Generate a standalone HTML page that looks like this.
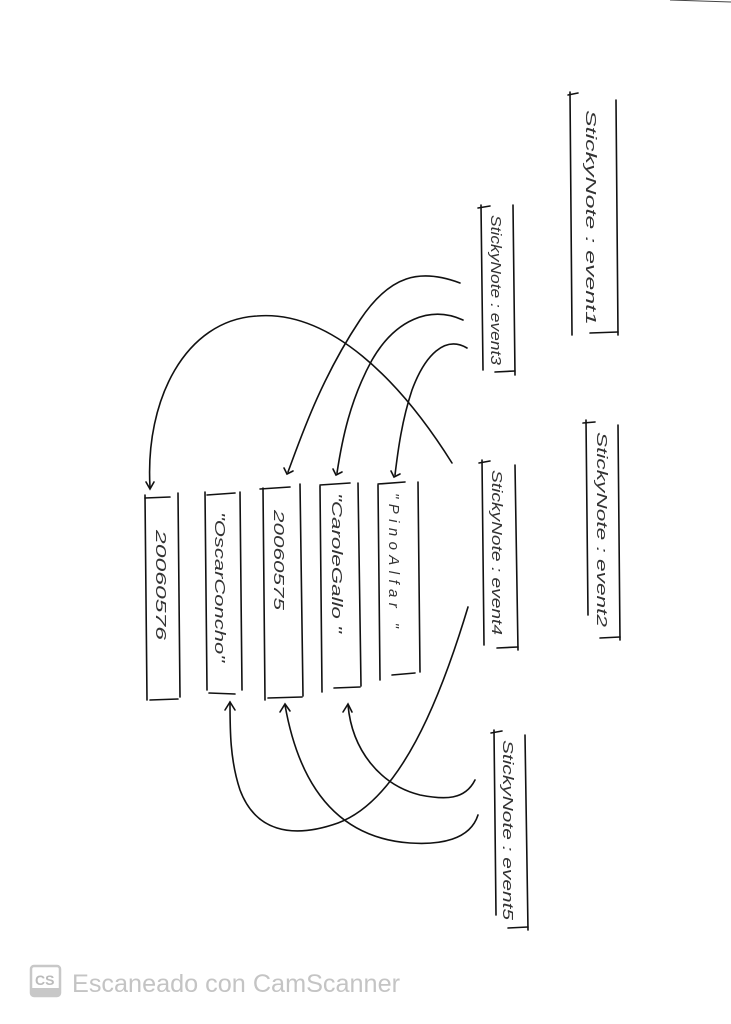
<!DOCTYPE html>
<html><head><meta charset="utf-8"><style>
html,body{margin:0;padding:0;background:#fff;}
svg{display:block;}
</style></head><body>
<svg width="731" height="1024" viewBox="0 0 731 1024" xmlns="http://www.w3.org/2000/svg">
<rect width="731" height="1024" fill="#fff"/>
<line x1="670" y1="0" x2="731" y2="2" stroke="#444" stroke-width="1"/>
<g stroke="#111" stroke-width="1.6" fill="none" stroke-linecap="round">
<path d="M570 92 L572 335"/><path d="M616 100 L618 335"/><path d="M568 95 L578 93"/><path d="M590 333 L618 332"/>
<path d="M481 205 L483 370"/><path d="M513 205 L515 375"/><path d="M478 208 L490 206"/><path d="M495 372 L515 371"/>
<path d="M586 420 L588 615"/><path d="M618 425 L620 640"/><path d="M583 423 L595 422"/><path d="M600 638 L620 637"/>
<path d="M482 460 L484 645"/><path d="M515 465 L518 650"/><path d="M479 463 L490 461"/><path d="M497 648 L518 647"/>
<path d="M494 730 L496 915"/><path d="M525 735 L528 930"/><path d="M491 733 L502 731"/><path d="M508 928 L528 927"/>
<path d="M378 485 L380 680"/><path d="M418 482 L420 672"/><path d="M378 484 L405 482"/><path d="M392 675 L415 673"/>
<path d="M320 486 L322 692"/><path d="M358 483 L361 686"/><path d="M320 485 L350 483"/><path d="M334 688 L360 687"/>
<path d="M263 488 L265 700"/><path d="M300 484 L303 696"/><path d="M260 489 L290 487"/><path d="M268 698 L302 697"/>
<path d="M205 492 L207 690"/><path d="M240 492 L242 690"/><path d="M207 495 L235 493"/><path d="M209 693 L235 694"/>
<path d="M145 495 L147 700"/><path d="M178 493 L180 697"/><path d="M145 498 L170 497"/><path d="M150 700 L178 699"/>
<path d="M452 463 C400 380 330 310 257 316 C185 320 145 400 150 487"/>
<path d="M146 482 L150 489 L154 482"/>
<path d="M460 283 C420 268 390 275 360 320 C320 380 300 440 288 472"/>
<path d="M284 468 L287 474 L293 471"/>
<path d="M463 320 C430 305 395 320 372 360 C350 400 342 440 337 473"/>
<path d="M333 469 L336 475 L342 472"/>
<path d="M467 348 C445 335 425 355 412 390 C402 420 398 450 395 475"/>
<path d="M391 471 L394 477 L400 474"/>
<path d="M468 607 C440 700 400 800 338 823 C290 840 255 830 240 790 C230 760 230 730 230 702"/>
<path d="M225 710 L230 702 L235 710"/>
<path d="M475 780 C465 800 445 800 420 795 C380 785 352 750 348 705"/>
<path d="M343 712 L348 704 L352 712"/>
<path d="M478 815 C470 840 440 845 410 843 C340 838 300 790 285 705"/>
<path d="M280 712 L285 704 L290 711"/>
</g>
<g font-family="Liberation Sans, sans-serif" font-size="15" fill="#333" font-style="italic">
<text transform="translate(586,110) rotate(90)" textLength="215" lengthAdjust="spacingAndGlyphs">StickyNote : event1</text>
<text transform="translate(491,215) rotate(90)" textLength="150" lengthAdjust="spacingAndGlyphs">StickyNote : event3</text>
<text transform="translate(597,432) rotate(90)" textLength="195" lengthAdjust="spacingAndGlyphs">StickyNote : event2</text>
<text transform="translate(492,470) rotate(90)" textLength="165" lengthAdjust="spacingAndGlyphs">StickyNote : event4</text>
<text transform="translate(503,740) rotate(90)" textLength="180" lengthAdjust="spacingAndGlyphs">StickyNote : event5</text>
<text transform="translate(389,493) rotate(90)" textLength="135" lengthAdjust="spacing">"PinoAlfar      "</text>
<text transform="translate(332,493) rotate(90)" textLength="140" lengthAdjust="spacingAndGlyphs">"CaroleGallo "</text>
<text transform="translate(274,510) rotate(90)" textLength="100" lengthAdjust="spacingAndGlyphs">20060575</text>
<text transform="translate(215,512) rotate(90)" textLength="150" lengthAdjust="spacingAndGlyphs">"OscarConcho"</text>
<text transform="translate(156,530) rotate(90)" textLength="110" lengthAdjust="spacingAndGlyphs">20060576</text>
</g>
<rect x="31" y="966" width="29" height="30" rx="3" fill="none" stroke="#c8c8c8" stroke-width="2.5"/>
<rect x="31" y="988" width="29" height="8" fill="#c8c8c8"/>
<text x="35" y="985" font-family="Liberation Sans, sans-serif" font-size="14" font-weight="bold" fill="#bbb">CS</text>
<text x="72" y="992" font-family="Liberation Sans, sans-serif" font-size="25" fill="#c4c4c4" textLength="328" lengthAdjust="spacingAndGlyphs">Escaneado con CamScanner</text>
</svg>
</body></html>
